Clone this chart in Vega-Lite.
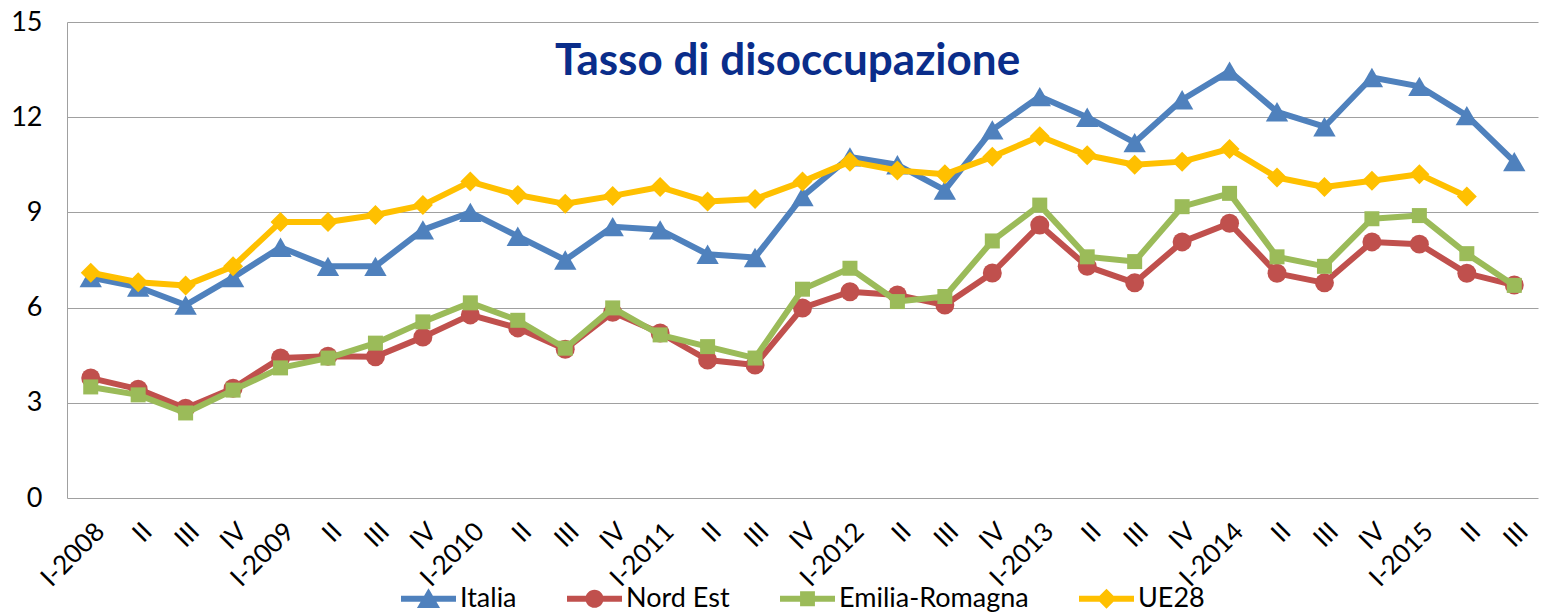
{
  "$schema": "https://vega.github.io/schema/vega-lite/v6.json",
  "width": 1471,
  "height": 476,
  "autosize": "none",
  "padding": {"left": 67, "top": 22, "right": 4, "bottom": 116},
  "background": "white",
  "config": {"font": "Lato", "view": {"stroke": null}, "legend": {"layout": {"bottom": {"anchor": "middle"}}}},
  "data": {"values": [
    {"q":"I-2008","serie":"Italia","v":6.95},{"q":"II-2008","serie":"Italia","v":6.65},{"q":"III-2008","serie":"Italia","v":6.08},{"q":"IV-2008","serie":"Italia","v":6.95},
    {"q":"I-2009","serie":"Italia","v":7.9},{"q":"II-2009","serie":"Italia","v":7.3},{"q":"III-2009","serie":"Italia","v":7.3},{"q":"IV-2009","serie":"Italia","v":8.45},
    {"q":"I-2010","serie":"Italia","v":9.0},{"q":"II-2010","serie":"Italia","v":8.25},{"q":"III-2010","serie":"Italia","v":7.5},{"q":"IV-2010","serie":"Italia","v":8.55},
    {"q":"I-2011","serie":"Italia","v":8.45},{"q":"II-2011","serie":"Italia","v":7.68},{"q":"III-2011","serie":"Italia","v":7.58},{"q":"IV-2011","serie":"Italia","v":9.5},
    {"q":"I-2012","serie":"Italia","v":10.75},{"q":"II-2012","serie":"Italia","v":10.5},{"q":"III-2012","serie":"Italia","v":9.7},{"q":"IV-2012","serie":"Italia","v":11.6},
    {"q":"I-2013","serie":"Italia","v":12.65},{"q":"II-2013","serie":"Italia","v":12.0},{"q":"III-2013","serie":"Italia","v":11.2},{"q":"IV-2013","serie":"Italia","v":12.55},
    {"q":"I-2014","serie":"Italia","v":13.45},{"q":"II-2014","serie":"Italia","v":12.17},{"q":"III-2014","serie":"Italia","v":11.7},{"q":"IV-2014","serie":"Italia","v":13.25},
    {"q":"I-2015","serie":"Italia","v":12.97},{"q":"II-2015","serie":"Italia","v":12.05},{"q":"III-2015","serie":"Italia","v":10.6},

    {"q":"I-2008","serie":"Nord Est","v":3.78},{"q":"II-2008","serie":"Nord Est","v":3.43},{"q":"III-2008","serie":"Nord Est","v":2.83},{"q":"IV-2008","serie":"Nord Est","v":3.46},
    {"q":"I-2009","serie":"Nord Est","v":4.41},{"q":"II-2009","serie":"Nord Est","v":4.47},{"q":"III-2009","serie":"Nord Est","v":4.45},{"q":"IV-2009","serie":"Nord Est","v":5.07},
    {"q":"I-2010","serie":"Nord Est","v":5.77},{"q":"II-2010","serie":"Nord Est","v":5.36},{"q":"III-2010","serie":"Nord Est","v":4.69},{"q":"IV-2010","serie":"Nord Est","v":5.85},
    {"q":"I-2011","serie":"Nord Est","v":5.2},{"q":"II-2011","serie":"Nord Est","v":4.35},{"q":"III-2011","serie":"Nord Est","v":4.19},{"q":"IV-2011","serie":"Nord Est","v":5.99},
    {"q":"I-2012","serie":"Nord Est","v":6.5},{"q":"II-2012","serie":"Nord Est","v":6.4},{"q":"III-2012","serie":"Nord Est","v":6.08},{"q":"IV-2012","serie":"Nord Est","v":7.09},
    {"q":"I-2013","serie":"Nord Est","v":8.6},{"q":"II-2013","serie":"Nord Est","v":7.3},{"q":"III-2013","serie":"Nord Est","v":6.78},{"q":"IV-2013","serie":"Nord Est","v":8.07},
    {"q":"I-2014","serie":"Nord Est","v":8.66},{"q":"II-2014","serie":"Nord Est","v":7.08},{"q":"III-2014","serie":"Nord Est","v":6.78},{"q":"IV-2014","serie":"Nord Est","v":8.07},
    {"q":"I-2015","serie":"Nord Est","v":8.0},{"q":"II-2015","serie":"Nord Est","v":7.08},{"q":"III-2015","serie":"Nord Est","v":6.71},

    {"q":"I-2008","serie":"Emilia-Romagna","v":3.5},{"q":"II-2008","serie":"Emilia-Romagna","v":3.25},{"q":"III-2008","serie":"Emilia-Romagna","v":2.68},{"q":"IV-2008","serie":"Emilia-Romagna","v":3.4},
    {"q":"I-2009","serie":"Emilia-Romagna","v":4.1},{"q":"II-2009","serie":"Emilia-Romagna","v":4.41},{"q":"III-2009","serie":"Emilia-Romagna","v":4.88},{"q":"IV-2009","serie":"Emilia-Romagna","v":5.55},
    {"q":"I-2010","serie":"Emilia-Romagna","v":6.15},{"q":"II-2010","serie":"Emilia-Romagna","v":5.6},{"q":"III-2010","serie":"Emilia-Romagna","v":4.72},{"q":"IV-2010","serie":"Emilia-Romagna","v":5.99},
    {"q":"I-2011","serie":"Emilia-Romagna","v":5.14},{"q":"II-2011","serie":"Emilia-Romagna","v":4.77},{"q":"III-2011","serie":"Emilia-Romagna","v":4.41},{"q":"IV-2011","serie":"Emilia-Romagna","v":6.58},
    {"q":"I-2012","serie":"Emilia-Romagna","v":7.24},{"q":"II-2012","serie":"Emilia-Romagna","v":6.19},{"q":"III-2012","serie":"Emilia-Romagna","v":6.35},{"q":"IV-2012","serie":"Emilia-Romagna","v":8.1},
    {"q":"I-2013","serie":"Emilia-Romagna","v":9.23},{"q":"II-2013","serie":"Emilia-Romagna","v":7.6},{"q":"III-2013","serie":"Emilia-Romagna","v":7.45},{"q":"IV-2013","serie":"Emilia-Romagna","v":9.18},
    {"q":"I-2014","serie":"Emilia-Romagna","v":9.6},{"q":"II-2014","serie":"Emilia-Romagna","v":7.6},{"q":"III-2014","serie":"Emilia-Romagna","v":7.3},{"q":"IV-2014","serie":"Emilia-Romagna","v":8.8},
    {"q":"I-2015","serie":"Emilia-Romagna","v":8.9},{"q":"II-2015","serie":"Emilia-Romagna","v":7.7},{"q":"III-2015","serie":"Emilia-Romagna","v":6.7},

    {"q":"I-2008","serie":"UE28","v":7.1},{"q":"II-2008","serie":"UE28","v":6.8},{"q":"III-2008","serie":"UE28","v":6.7},{"q":"IV-2008","serie":"UE28","v":7.3},
    {"q":"I-2009","serie":"UE28","v":8.7},{"q":"II-2009","serie":"UE28","v":8.7},{"q":"III-2009","serie":"UE28","v":8.92},{"q":"IV-2009","serie":"UE28","v":9.23},
    {"q":"I-2010","serie":"UE28","v":9.97},{"q":"II-2010","serie":"UE28","v":9.55},{"q":"III-2010","serie":"UE28","v":9.27},{"q":"IV-2010","serie":"UE28","v":9.52},
    {"q":"I-2011","serie":"UE28","v":9.8},{"q":"II-2011","serie":"UE28","v":9.34},{"q":"III-2011","serie":"UE28","v":9.42},{"q":"IV-2011","serie":"UE28","v":9.97},
    {"q":"I-2012","serie":"UE28","v":10.6},{"q":"II-2012","serie":"UE28","v":10.32},{"q":"III-2012","serie":"UE28","v":10.2},{"q":"IV-2012","serie":"UE28","v":10.75},
    {"q":"I-2013","serie":"UE28","v":11.4},{"q":"II-2013","serie":"UE28","v":10.8},{"q":"III-2013","serie":"UE28","v":10.5},{"q":"IV-2013","serie":"UE28","v":10.6},
    {"q":"I-2014","serie":"UE28","v":11.0},{"q":"II-2014","serie":"UE28","v":10.1},{"q":"III-2014","serie":"UE28","v":9.8},{"q":"IV-2014","serie":"UE28","v":10.0},
    {"q":"I-2015","serie":"UE28","v":10.2},{"q":"II-2015","serie":"UE28","v":9.5}
  ]},
  "encoding": {
    "x": {
      "field": "q", "type": "ordinal", "sort": null,
      "scale": {"domain": ["I-2008","II-2008","III-2008","IV-2008","I-2009","II-2009","III-2009","IV-2009","I-2010","II-2010","III-2010","IV-2010","I-2011","II-2011","III-2011","IV-2011","I-2012","II-2012","III-2012","IV-2012","I-2013","II-2013","III-2013","IV-2013","I-2014","II-2014","III-2014","IV-2014","I-2015","II-2015","III-2015"]},
      "axis": {"title": null, "labelAngle": -45, "labelFontSize": 26, "labelColor": "#000000", "labelFont": "Lato", "ticks": false, "domain": false, "labelPadding": 20, "labelExpr": "indexof(datum.value, 'I-') == 0 ? datum.value : split(datum.value, '-')[0]"}
    },
    "y": {
      "field": "v", "type": "quantitative",
      "scale": {"domain": [0, 15], "nice": false},
      "axis": {"title": null, "values": [0, 3, 6, 9, 12, 15], "labelFontSize": 27, "labelColor": "#000000", "labelFont": "Lato", "ticks": false, "labelPadding": 25, "domainColor": "#a0a0a0", "domainWidth": 1, "gridColor": "#a0a0a0", "gridWidth": 1, "gridOpacity": 1}
    }
  },
  "layer": [
    {
      "data": {"values": [{"titolo": "Tasso di disoccupazione", "pos": "IV-2011", "quota": 13.74}]},
      "mark": {"type": "text", "font": "Lato", "fontSize": 44, "fontWeight": "bold", "color": "#0a2d8a", "align": "center", "baseline": "middle", "dx": -15},
      "encoding": {
        "x": {"field": "pos", "type": "ordinal"},
        "y": {"field": "quota", "type": "quantitative"},
        "text": {"field": "titolo"}
      }
    },
    {
      "transform": [{"filter": "datum.serie == 'Italia'"}],
      "layer": [
        {"mark": {"type": "line", "color": "#4F81BD", "strokeWidth": 6, "strokeJoin": "round"}, "encoding": {}},
        {"mark": {"type": "point", "shape": "triangle-up", "size": 500, "filled": true, "color": "#4F81BD", "opacity": 1}, "encoding": {}}
      ]
    },
    {
      "transform": [{"filter": "datum.serie == 'Nord Est'"}],
      "layer": [
        {"mark": {"type": "line", "color": "#C0504D", "strokeWidth": 6, "strokeJoin": "round"}, "encoding": {}},
        {"mark": {"type": "point", "shape": "circle", "size": 360, "filled": true, "color": "#C0504D", "opacity": 1}, "encoding": {}}
      ]
    },
    {
      "transform": [{"filter": "datum.serie == 'Emilia-Romagna'"}],
      "layer": [
        {"mark": {"type": "line", "color": "#9BBB59", "strokeWidth": 6, "strokeJoin": "round"}, "encoding": {}},
        {"mark": {"type": "point", "shape": "square", "size": 225, "filled": true, "color": "#9BBB59", "opacity": 1}, "encoding": {}}
      ]
    },
    {
      "transform": [{"filter": "datum.serie == 'UE28'"}],
      "layer": [
        {"mark": {"type": "line", "color": "#FFC000", "strokeWidth": 6, "strokeJoin": "round"}, "encoding": {}},
        {"mark": {"type": "point", "shape": "diamond", "size": 400, "filled": true, "color": "#FFC000", "opacity": 1}, "encoding": {}}
      ]
    },
    {
      "transform": [{"filter": "false"}],
      "mark": {"type": "point", "filled": true, "opacity": 1},
      "encoding": {
        "color": {
          "field": "serie", "type": "nominal",
          "scale": {"domain": ["Italia", "Nord Est", "Emilia-Romagna", "UE28"], "range": ["#4F81BD", "#C0504D", "#9BBB59", "#FFC000"]},
          "legend": {"title": null, "orient": "bottom", "direction": "horizontal", "columns": 4, "labelFontSize": 27, "labelFont": "Lato", "labelColor": "#000000", "labelOffset": 4, "labelLimit": 500, "symbolSize": 3025, "symbolStrokeWidth": 0, "columnPadding": 50, "offset": -21, "symbolOpacity": 1}
        },
        "shape": {
          "field": "serie", "type": "nominal",
          "scale": {"domain": ["Italia", "Nord Est", "Emilia-Romagna", "UE28"], "range": [
            "M-1,-0.11 L1,-0.11 L1,0.11 L-1,0.11 Z M0,-0.38 L0.42,0.34 L-0.42,0.34 Z",
            "M-1,-0.11 L1,-0.11 L1,0.11 L-1,0.11 Z M-0.33,0 A0.33,0.33 0 1,1 0.33,0 A0.33,0.33 0 1,1 -0.33,0 Z",
            "M-1,-0.11 L1,-0.11 L1,0.11 L-1,0.11 Z M-0.27,-0.27 L0.27,-0.27 L0.27,0.27 L-0.27,0.27 Z",
            "M-1,-0.11 L1,-0.11 L1,0.11 L-1,0.11 Z M0,-0.36 L0.36,0 L0,0.36 L-0.36,0 Z"
          ]},
          "legend": {"title": null, "orient": "bottom", "direction": "horizontal", "columns": 4, "labelFontSize": 27, "labelFont": "Lato", "labelColor": "#000000", "labelOffset": 4, "labelLimit": 500, "symbolSize": 3025, "symbolStrokeWidth": 0, "columnPadding": 50, "offset": -21, "symbolOpacity": 1}
        }
      }
    }
  ]
}
